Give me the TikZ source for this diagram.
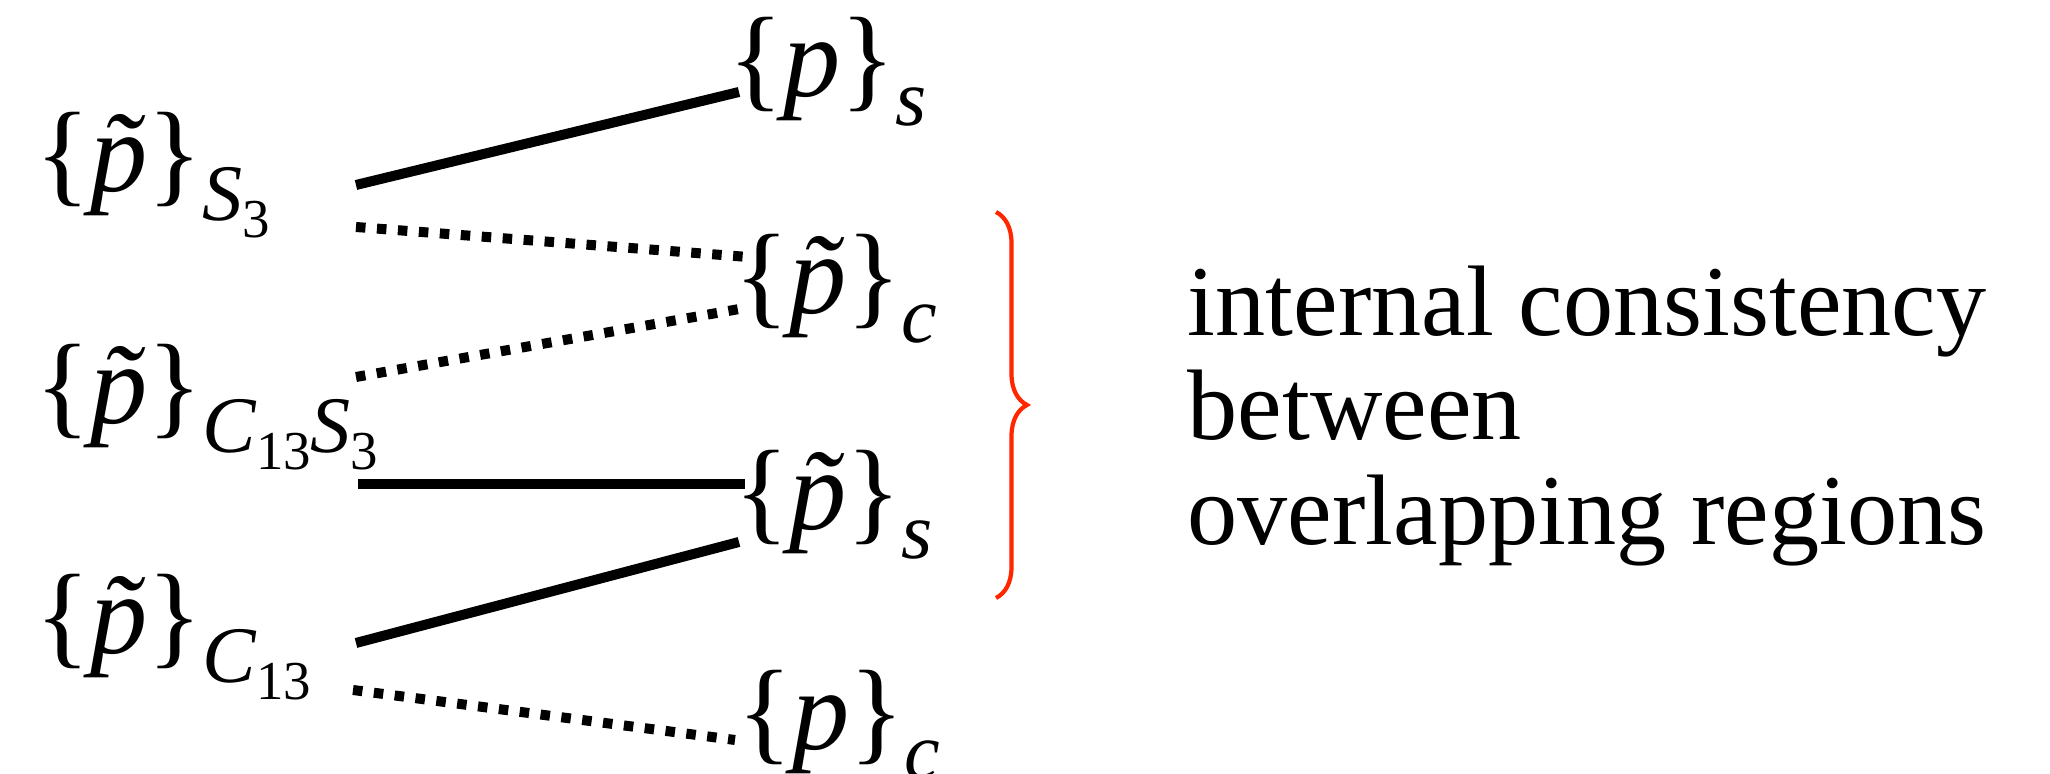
\documentclass[tikz,border=0pt]{standalone}
\usepackage{fontspec}
\setmainfont{Liberation Serif}
\usetikzlibrary{decorations.pathreplacing}
\definecolor{bracered}{RGB}{255,38,0}

% set with subscript, and a lowered index inside it
\newcommand{\pset}[2]{\{#1\}\raisebox{-8pt}{\fontsize{22.8}{24}\selectfont\itshape #2}}
\newcommand{\lowsub}[1]{\raisebox{-5pt}{\fontsize{15.6}{16}\selectfont\upshape #1}}
\newcommand{\tp}{\textit{\accent"02DC p}}

\begin{document}
\begin{tikzpicture}[x=0.01cm,y=-0.01cm,
    lab/.style={anchor=base west,inner sep=0pt,font=\fontsize{32.5}{34}\selectfont},
    note/.style={anchor=base west,inner sep=0pt,font=\fontsize{28.5}{30}\selectfont},
    solidline/.style={line width=0.1cm},
    dotline/.style={line width=0.1cm,dash pattern=on 0.095cm off 0.115cm}]
    \useasboundingbox (0,0) rectangle (2050,774);

    % Left column
    \node[lab] (ps3) at (35,192) {\pset{\tp}{S\lowsub{3}}};
    \node[lab] (pcs) at (35,424) {\pset{\tp}{C\lowsub{13}S\lowsub{3}}};
    \node[lab] (pc13) at (35,654) {\pset{\tp}{C\lowsub{13}}};

    % Right column
    \node[lab] (ps) at (728,97) {\pset{\textit{p}}{s}};
    \node[lab] (ptc) at (734,314) {\pset{\tp}{c}};
    \node[lab] (pts) at (734,530) {\pset{\tp}{s}};
    \node[lab] (pc) at (737,750) {\pset{\textit{p}}{c}};

    % Links
    \draw[solidline] ([shift={(321,-7)}]ps3.base west) -- ([shift={(11,-5)}]ps.base west);
    \draw[dotline] ([shift={(321,35)}]ps3.base west) -- ([shift={(14,-57)}]ptc.base west);
    \draw[dotline] ([shift={(321,-47)}]pcs.base west) -- ([shift={(11,-6)}]ptc.base west);
    \draw[solidline] ([shift={(323,60)}]pcs.base west) -- ([shift={(11,-46)}]pts.base west);
    \draw[solidline] ([shift={(321,-11)}]pc13.base west) -- ([shift={(5,12)}]pts.base west);
    \draw[dotline] ([shift={(318,36)}]pc13.base west) -- ([shift={(-2,-10)}]pc.base west);

    % Brace and remark
    \draw[bracered,line width=1.2pt,decorate,decoration={brace,amplitude=0.31cm}]
        (996,212) -- (996,598);
    \node[note] (note1) at (1187,336) {internal consistency};
    \node[note] (note2) at (1187,440) {between};
    \node[note] (note3) at (1187,545) {overlapping regions};
\end{tikzpicture}
\end{document}
